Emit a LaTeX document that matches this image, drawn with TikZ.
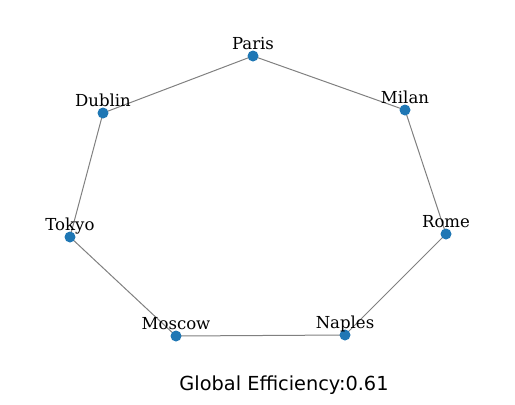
\documentclass[tikz,border=0pt]{standalone}
\usepackage{fontspec}
\setmainfont{DejaVu Serif}
\newfontfamily\titlefont{DejaVu Sans}
\definecolor{nodeblue}{HTML}{1F77B4}
\tikzset{
  city/.style={circle,fill=nodeblue,inner sep=0pt,minimum size=11bp},
  lbl/.style={anchor=base,inner sep=0pt,font=\fontsize{16.6}{20}\selectfont},
  edge/.style={draw=gray,line width=1bp},
  ttl/.style={anchor=base,inner sep=0pt,font=\titlefont\fontsize{19.4}{23}\selectfont}
}
\begin{document}
\begin{tikzpicture}[x=1bp,y=-1bp]
\useasboundingbox (0,0) rectangle (515,404);
\coordinate (paris) at (253,56);
\coordinate (milan) at (405,110);
\coordinate (rome) at (446,234);
\coordinate (naples) at (345,335);
\coordinate (moscow) at (176,336);
\coordinate (tokyo) at (70,237);
\coordinate (dublin) at (103,113);
\draw[edge] (paris) -- (milan) -- (rome) -- (naples) -- (moscow) -- (tokyo) -- (dublin) -- (paris);
\foreach \n in {paris,milan,rome,naples,moscow,tokyo,dublin}
  \node[city] (\n N) at (\n) {};
\node[lbl] (parisL) at (253,49) {Paris};
\node[lbl] (milanL) at (405,103) {Milan};
\node[lbl] (romeL) at (446,227) {Rome};
\node[lbl] (naplesL) at (345,328) {Naples};
\node[lbl] (moscowL) at (176,329) {Moscow};
\node[lbl] (tokyoL) at (70,230) {Tokyo};
\node[lbl] (dublinL) at (103,106) {Dublin};
\node[ttl] (title) at (284,390) {Global Efficiency:0.61};
\end{tikzpicture}
\end{document}
